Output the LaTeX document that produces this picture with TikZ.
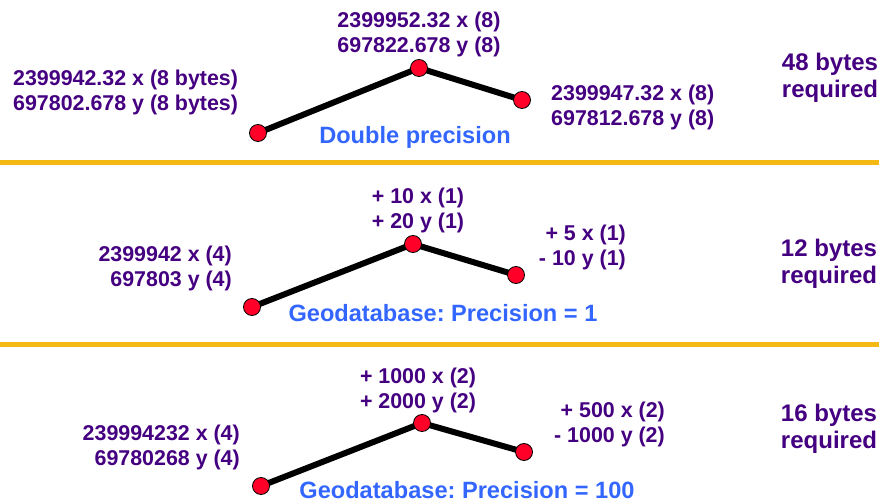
\documentclass[tikz,border=0pt]{standalone}
\usepackage{fontspec}
\setmainfont{Liberation Sans}
\frenchspacing
\definecolor{labelpurple}{RGB}{68,0,128}
\definecolor{titleblue}{RGB}{51,102,255}
\definecolor{rulegold}{RGB}{245,185,20}
\definecolor{dotred}{RGB}{255,0,40}
\begin{document}
\begin{tikzpicture}[
    x=1pt, y=-1pt,           % pixel grid of the slide
    coord/.style={text=labelpurple, font=\bfseries\fontsize{21.4}{25}\selectfont, inner sep=0pt},
    bytes/.style={text=labelpurple, font=\bfseries\fontsize{24}{27}\selectfont, inner sep=0pt},
    title/.style={text=titleblue, font=\bfseries\fontsize{23.6}{26}\selectfont, inner sep=0pt},
    vertex/.style={circle, draw=black, fill=dotred, line width=0.8pt, minimum size=17pt, inner sep=0pt},
    segment/.style={line width=6pt},
    sepline/.style={rulegold, line width=5pt}
]
    \useasboundingbox (0,0) rectangle (879,502);

    % --- 1. Double precision (top) ---
    \coordinate (A1) at (258,133);
    \coordinate (B1) at (419,68);
    \coordinate (C1) at (522,100);
    \draw[segment] (A1) -- (B1) -- (C1);
    \node[vertex] (a1) at (A1) {};
    \node[vertex] (b1) at (B1) {};
    \node[vertex] (c1) at (C1) {};

    \node[coord, align=center] (tb1) at (419,34) {2399952.32 x (8)\\697822.678 y (8)};
    \node[coord, align=left, anchor=west] (ta1) at (13,92.5) {2399942.32 x (8 bytes)\\697802.678 y (8 bytes)};
    \node[coord, align=left, anchor=west] (tc1) at (551,107) {2399947.32 x (8)\\697812.678 y (8)};
    \node[title] (lab1) at (415,137) {Double precision};
    \node[bytes, align=center] (req1) at (830,78) {48 bytes\\required};

    \draw[sepline] (0,163) -- (879,163);

    % --- 2. Geodatabase, precision 1 (middle) ---
    \coordinate (A2) at (252,307);
    \coordinate (B2) at (413,244);
    \coordinate (C2) at (516,275);
    \draw[segment] (A2) -- (B2) -- (C2);
    \node[vertex] (a2) at (A2) {};
    \node[vertex] (b2) at (B2) {};
    \node[vertex] (c2) at (C2) {};

    \node[coord, align=center] (tb2) at (418,210.5) {+ 10 x (1)\\+ 20 y (1)};
    \node[coord, align=right, anchor=east] (ta2) at (232,268) {2399942 x (4)\\697803 y (4)};
    \node[coord, align=right, anchor=east] (tc2) at (626,247) {+ 5 x (1)\\- 10 y (1)};
    \node[title] (lab2) at (443,313) {Geodatabase: Precision = 1};
    \node[bytes, align=center] (req2) at (829,264) {12 bytes\\required};

    \draw[sepline] (0,345) -- (879,345);

    % --- 3. Geodatabase, precision 100 (bottom) ---
    \coordinate (A3) at (261,486);
    \coordinate (B3) at (422,423);
    \coordinate (C3) at (524,452);
    \draw[segment] (A3) -- (B3) -- (C3);
    \node[vertex] (a3) at (A3) {};
    \node[vertex] (b3) at (B3) {};
    \node[vertex] (c3) at (C3) {};

    \node[coord, align=center] (tb3) at (418,390.5) {+ 1000 x (2)\\+ 2000 y (2)};
    \node[coord, align=right, anchor=east] (ta3) at (240,447.5) {239994232 x (4)\\69780268 y (4)};
    \node[coord, align=right, anchor=east] (tc3) at (665,424.5) {+ 500 x (2)\\- 1000 y (2)};
    \node[title] (lab3) at (467,490) {Geodatabase: Precision = 100};
    \node[bytes, align=center] (req3) at (829,429) {16 bytes\\required};

\end{tikzpicture}
\end{document}
